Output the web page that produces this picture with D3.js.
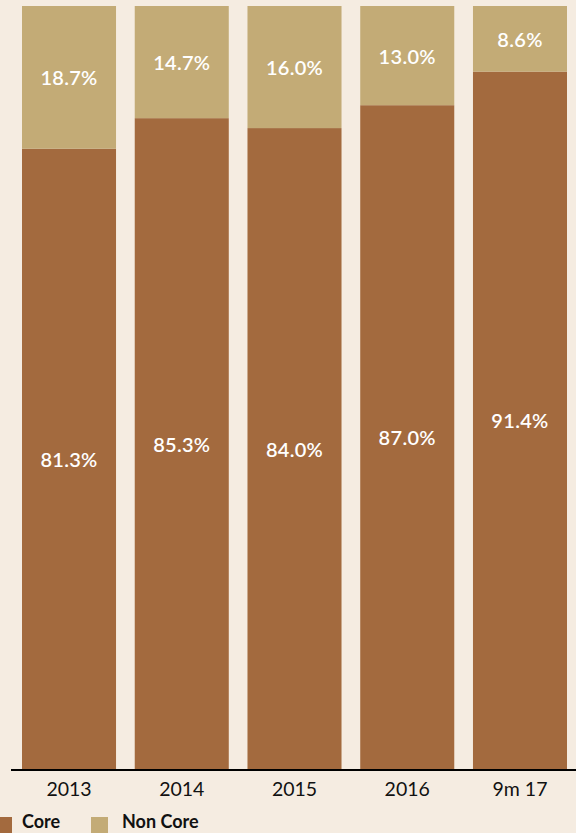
<!DOCTYPE html>
<html><head><meta charset="utf-8">
<script src="https://cdn.jsdelivr.net/npm/d3@7"></script>
<style>
html,body{margin:0;padding:0;background:#f5ece1;}
svg{display:block;}
</style></head>
<body>
<svg id="c" width="576" height="833"></svg>
<script>
const categories = ["2013","2014","2015","2016","9m 17"];
const core = [81.3, 85.3, 84.0, 87.0, 91.4];
const nonCore = [18.7, 14.7, 16.0, 13.0, 8.6];
const seriesNames = ["Core","Non Core"];
const colors = ["#a36a3e","#c3ab76"];

const svg = d3.select("#c");
const font = "Lato, 'Open Sans', sans-serif";
const x = d3.scaleBand().domain(categories).range([22, 567]).paddingInner(0.166).paddingOuter(0);
const y = d3.scaleLinear().domain([0,100]).range([769, 6]);

const data = categories.map((c,i)=>({cat:c, core:core[i], non:nonCore[i]}));
const stack = d3.stack().keys(["core","non"])(data);

stack.forEach((layer, li) => {
  svg.append("g").selectAll("rect").data(layer).join("rect")
    .attr("x", d=>x(d.data.cat))
    .attr("width", x.bandwidth())
    .attr("y", d=>y(d[1]))
    .attr("height", d=>y(d[0])-y(d[1]))
    .attr("fill", colors[li]);
  svg.append("g").selectAll("text").data(layer).join("text")
    .attr("x", d=>x(d.data.cat)+x.bandwidth()/2)
    .attr("y", d=>(y(d[0])+y(d[1]))/2)
    .attr("text-anchor","middle")
    .attr("dominant-baseline","central")
    .attr("fill","#fff")
    .attr("font-family", font)
    .attr("font-weight", 600)
    .attr("font-size", 20)
    .attr("letter-spacing", 0.3)
    .text(d=>(d[1]-d[0]).toFixed(1)+"%");
});

const axis = d3.axisBottom(x).tickSize(0).tickPadding(12);
const ag = svg.append("g").attr("transform","translate(0,770)").call(axis);
ag.select(".domain").remove();
ag.append("line").attr("x1",11).attr("x2",576).attr("y1",0).attr("y2",0).attr("stroke","#000").attr("stroke-width",2);
ag.selectAll(".tick text").attr("font-family",font).attr("font-size",19.5).attr("fill","#111");

const lg = svg.append("g");
const lx = [-5, 91];
seriesNames.forEach((n,i)=>{
  lg.append("rect").attr("x",lx[i]).attr("y",817).attr("width",17).attr("height",16).attr("fill",colors[i]);
  lg.append("text").attr("x",lx[i]+(i===0?27:31)).attr("y",828).attr("font-family",font).attr("font-weight","bold")
    .attr("font-size",18).attr("fill","#111").text(n);
});
</script>
</body></html>
